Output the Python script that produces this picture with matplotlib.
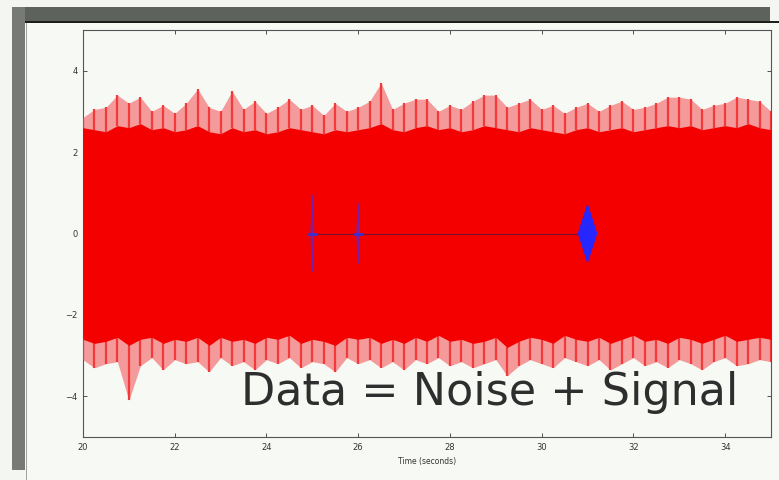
import numpy as np
import matplotlib.pyplot as plt
from matplotlib.patches import Rectangle

# Noise envelope, every 0.25 s from 20 s to 35 s
t = np.arange(20.0, 35.01, 0.25)
upper_peak = [2.85, 3.05, 3.10, 3.40, 3.20, 3.35, 3.00, 3.15, 2.95, 3.20, 3.55, 3.10, 3.00,
              3.50, 3.05, 3.25, 2.95, 3.10, 3.30, 3.05, 3.15, 2.90, 3.20, 3.00, 3.10, 3.25,
              3.70, 3.05, 3.20, 3.30, 3.30, 3.00, 3.15, 3.05, 3.25, 3.40, 3.40, 3.10, 3.20,
              3.30, 3.05, 3.15, 2.95, 3.10, 3.20, 3.00, 3.15, 3.25, 3.05, 3.10, 3.20, 3.35,
              3.35, 3.30, 3.05, 3.15, 3.20, 3.35, 3.30, 3.25, 3.00]
core_upper = [2.60, 2.55, 2.50, 2.65, 2.60, 2.70, 2.55, 2.60, 2.50, 2.55, 2.65, 2.50, 2.45,
              2.60, 2.50, 2.55, 2.45, 2.50, 2.60, 2.55, 2.50, 2.45, 2.55, 2.50, 2.55, 2.60,
              2.70, 2.55, 2.50, 2.60, 2.65, 2.55, 2.60, 2.50, 2.55, 2.65, 2.60, 2.55, 2.50,
              2.60, 2.55, 2.50, 2.45, 2.55, 2.60, 2.50, 2.55, 2.60, 2.50, 2.55, 2.60, 2.65,
              2.60, 2.65, 2.55, 2.60, 2.65, 2.60, 2.70, 2.60, 2.55]
lower_peak = [-3.10, -3.30, -3.20, -3.15, -4.10, -3.25, -3.05, -3.35, -3.10, -3.20, -3.15,
              -3.40, -3.05, -3.25, -3.15, -3.35, -3.10, -3.20, -3.05, -3.30, -3.15, -3.20,
              -3.40, -3.05, -3.20, -3.10, -3.30, -3.15, -3.35, -3.10, -3.20, -3.05, -3.25,
              -3.15, -3.30, -3.20, -3.10, -3.50, -3.25, -3.10, -3.20, -3.30, -3.05, -3.15,
              -3.25, -3.10, -3.35, -3.20, -3.05, -3.25, -3.15, -3.30, -3.10, -3.20, -3.35,
              -3.15, -3.05, -3.25, -3.20, -3.10, -3.15]
core_lower = [-2.60, -2.70, -2.65, -2.55, -2.75, -2.60, -2.55, -2.70, -2.60, -2.65, -2.55,
              -2.75, -2.55, -2.65, -2.60, -2.70, -2.55, -2.60, -2.50, -2.70, -2.60, -2.65,
              -2.75, -2.55, -2.60, -2.55, -2.70, -2.60, -2.70, -2.55, -2.65, -2.50, -2.65,
              -2.60, -2.70, -2.65, -2.55, -2.80, -2.65, -2.55, -2.60, -2.70, -2.50, -2.60,
              -2.65, -2.55, -2.70, -2.60, -2.50, -2.65, -2.60, -2.70, -2.55, -2.60, -2.70,
              -2.60, -2.50, -2.65, -2.60, -2.55, -2.60]

# Signal bursts (time, amplitude, half width in seconds)
burst_times = [25.0, 26.0, 31.0]
burst_amp = [0.95, 0.75, 0.70]
burst_halfwidth = [0.03, 0.03, 0.20]

fig = plt.figure(figsize=(7.79, 4.80), dpi=100, facecolor="#f4f6f2")

# slide frame / shadow seen in the photo
W, H = 779.0, 480.0
fig.add_artist(Rectangle((25 / W, 0), 1, 458 / H, transform=fig.transFigure,
                         facecolor="#f7f9f5", edgecolor="none", zorder=0))
fig.add_artist(Rectangle((12 / W, 1 - 21 / H), 758 / W, 14 / H, transform=fig.transFigure,
                         facecolor="#5e625c", edgecolor="none", zorder=1))
fig.add_artist(Rectangle((12 / W, 10 / H), 13 / W, 463 / H, transform=fig.transFigure,
                         facecolor="#777a75", edgecolor="none", zorder=1))
fig.add_artist(Rectangle((25 / W, 1 - 23 / H), 1, 2 / H, transform=fig.transFigure,
                         facecolor="#1e1e1e", edgecolor="none", zorder=1))
fig.add_artist(Rectangle((26 / W, 0), 1.2 / W, 457 / H, transform=fig.transFigure,
                         facecolor="#a0a3a0", edgecolor="none", zorder=1))

ax = fig.add_axes([83 / W, 43 / H, 688 / W, 407 / H])
ax.set_facecolor("#f7f9f5")

red = "#f40000"
ax.fill_between(t, lower_peak, upper_peak, color="#f59a9a", lw=0, zorder=2)
ax.vlines(t, core_upper, upper_peak, color="#f23a3a", lw=1.6, zorder=3)
ax.vlines(t, lower_peak, core_lower, color="#f23a3a", lw=1.6, zorder=3)
ax.fill_between(t, core_lower, core_upper, color=red, lw=0, zorder=4)

# signal
ax.plot([burst_times[0], burst_times[-1]], [0, 0], color="#7a1030", lw=0.8, zorder=5)
for bt, ba, bw in zip(burst_times, burst_amp, burst_halfwidth):
    wide = bw > 0.1
    ax.fill([bt - bw, bt, bt + bw, bt], [0, ba, 0, -ba],
            color="#2626ff" if wide else "#5a2ad0", alpha=1.0 if wide else 0.7,
            lw=0.8, zorder=6)
    if not wide:
        ax.plot([bt - 0.08, bt + 0.08], [0, 0], color="#3a30d0", lw=2, zorder=6)

ax.set_xlim(20, 35)
ax.set_ylim(-5, 5)
ax.set_xticks([20, 22, 24, 26, 28, 30, 32, 34])
ax.set_yticks([-4, -2, 0, 2, 4])
ax.tick_params(direction="in", length=3, width=0.6, labelsize=6, colors="#333333",
               top=True, right=True, pad=4)
for s in ax.spines.values():
    s.set_color("#555555")
    s.set_linewidth(0.8)
ax.set_xlabel("Time (seconds)", fontsize=5.5, color="#333333", labelpad=4)

ax.text(28.86, -4.22, "Data = Noise + Signal", ha="center", va="baseline",
        fontsize=32, family="DejaVu Sans", color="#2e2e2e", zorder=10)

fig.savefig("out.png", dpi=100, facecolor=fig.get_facecolor())
